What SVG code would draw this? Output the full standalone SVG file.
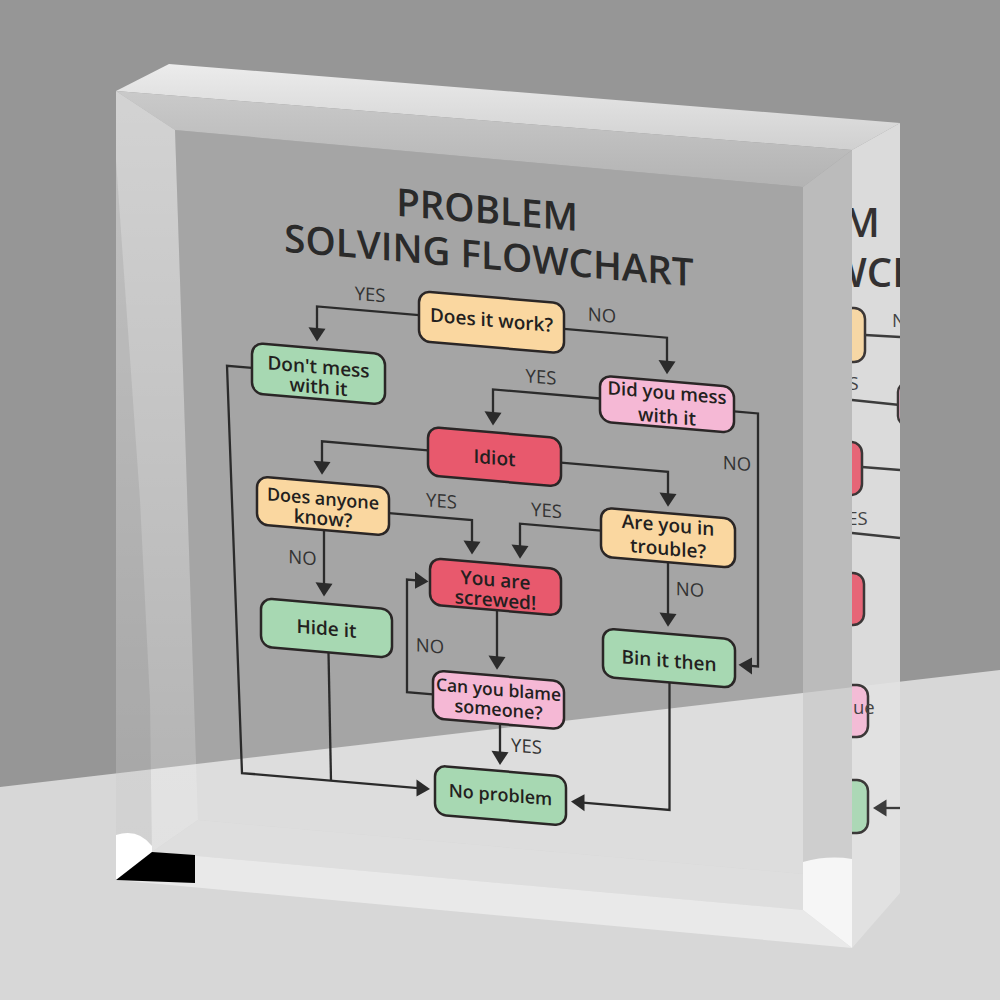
<svg xmlns="http://www.w3.org/2000/svg" width="1000" height="1000" viewBox="0 0 1000 1000">
<defs>
<style>
.box{stroke:#2a2626;stroke-width:2.5}
.orange{fill:#fad7a0}
.green{fill:#a7d8b2}
.pink{fill:#f5b8d5}
.red{fill:#e8596d}
.conn{fill:none;stroke:#2b2b2b;stroke-width:2.3;stroke-linejoin:miter}
.arrow{marker-end:url(#ah)}
.t{font-family:"Open Sans","DejaVu Sans",sans-serif;fill:#231f20;text-anchor:middle}
.bt{font-size:19px;font-weight:600}
.lbl{font-size:18.5px;fill:#333}
.title{font-size:38.5px;fill:#2a2a2a;font-weight:600}
</style>
<marker id="ah" viewBox="-16 -10 18 20" refX="-3" refY="0" markerWidth="18" markerHeight="20" markerUnits="userSpaceOnUse" orient="auto">
<path d="M-13.5,-8.5 L0,0 L-13.5,8.5 Z" fill="#2b2b2b"/>
</marker>
<linearGradient id="gTop" gradientUnits="userSpaceOnUse" x1="0" y1="64" x2="0" y2="150">
<stop offset="0" stop-color="#ececec"/><stop offset="1" stop-color="#d0d0d0"/>
</linearGradient>
<linearGradient id="gTopBevel" gradientUnits="userSpaceOnUse" x1="0" y1="91" x2="0" y2="187">
<stop offset="0" stop-color="#cacaca"/><stop offset="1" stop-color="#b3b3b3"/>
</linearGradient>
<linearGradient id="gLeft" gradientUnits="userSpaceOnUse" x1="0" y1="91" x2="0" y2="880">
<stop offset="0" stop-color="#fff" stop-opacity="0.58"/><stop offset="1" stop-color="#fff" stop-opacity="0.25"/>
</linearGradient>
<clipPath id="sideClip"><polygon points="852,150 900,123 900,893 852,948"/></clipPath>
</defs>

<g id="scene">
<rect x="0" y="0" width="1000" height="1000" fill="#969696"/>
<polygon points="0,787 1000,670 1000,1000 0,1000" fill="#d7d7d7"/>
<polygon id="face" points="175,130 803,187 803,874 198,820" fill="#fff" fill-opacity="0.15"/>
<polygon id="top-surface" points="116,91 169,64 900,123 852,150" fill="url(#gTop)"/>
<polygon id="top-bevel" points="116,91 852,150 803,187 175,130" fill="url(#gTopBevel)"/>
<polygon id="left-bevel" points="116,91 175,130 198,820 152,852 116,880" fill="url(#gLeft)"/>
<polygon points="116,160 140,500 150,700 152,852 116,880" fill="#000" fill-opacity="0.07"/>
<polygon id="right-bevel" points="803,187 852,150 852,948 803,910" fill="#cbcbcb" fill-opacity="0.7"/>
<polygon id="side-face" points="852,150 900,123 900,893 852,948" fill="#e2e2e2" fill-opacity="0.9"/>
<polygon id="bottom-bevel" points="198,820 803,874 803,910 152,852" fill="#dedede"/>
<polygon id="bottom-strip" points="152,852 803,910 852,948 116,880" fill="#e9e9e9"/>
<path d="M116,835 Q138,828 152,846 L152,852 L116,880 Z" fill="#ffffff"/>
<polygon points="116,880 152,852 195,855 195,883" fill="#000"/>
<path d="M803,862 Q828,855 852,859 L852,948 L803,910 Z" fill="#f6f6f6"/>
</g>

<g id="side-reflection" clip-path="url(#sideClip)" opacity="0.9">
<text class="t" x="843" y="237" font-size="40" style="text-anchor:start;font-weight:600">M</text>
<text class="t" x="829" y="287" font-size="40" style="text-anchor:start;font-weight:600">WCH</text>
<rect class="box orange" x="790" y="308" width="75" height="54" rx="11"/>
<path class="conn" d="M865,335 L900,337"/>
<text class="t lbl" x="892" y="327" style="text-anchor:start">NO</text>
<text class="t lbl" x="828" y="390" style="text-anchor:start">YES</text>
<path class="conn" d="M852,400 L900,405"/>
<rect class="box pink" x="898" y="383" width="40" height="42" rx="9"/>
<rect class="box red" x="790" y="442" width="72" height="53" rx="11"/>
<path class="conn" d="M862,467 L900,470"/>
<text class="t lbl" x="837" y="525" style="text-anchor:start">YES</text>
<path class="conn" d="M852,533 L900,538"/>
<rect class="box red" x="790" y="573" width="74" height="52" rx="11"/>
<rect class="box pink" x="790" y="685" width="78" height="52" rx="11"/>
<text class="t lbl" x="853" y="714" style="text-anchor:start">ue</text>
<rect class="box green" x="790" y="780" width="78" height="53" rx="11"/>
<path class="conn arrow" d="M902,808 H876"/>
</g>

<g id="chart" transform="matrix(1,0.085,0,1,0,-42.5)">
<g id="title">
<text class="t title" x="487" y="224.5">PROBLEM</text>
<text class="t title" x="489" y="270">SOLVING FLOWCHART</text>
</g>

<g id="connectors">
<path class="conn arrow" d="M419,322 H317 V354"/>
<path class="conn arrow" d="M564,323.5 H667 V357"/>
<path class="conn arrow" d="M600,390 H493 V423"/>
<path class="conn arrow" d="M734,391.5 H758 V644.5 H741.5"/>
<path class="conn arrow" d="M428,456.5 H322 V487"/>
<path class="conn arrow" d="M561,457.5 H668 V489.5"/>
<path class="conn arrow" d="M389,522.5 H472 V554"/>
<path class="conn arrow" d="M601,522 H520 V554"/>
<path class="conn arrow" d="M324,545 V608.5"/>
<path class="conn arrow" d="M668,548 V609.5"/>
<path class="conn arrow" d="M497,610.5 V667"/>
<path class="conn arrow" d="M433,700 H407 V587.5 H425.5"/>
<path class="conn arrow" d="M500,724 V762"/>
<path class="conn arrow" d="M252,389 H227 L242,795 H427"/>
<path class="conn" d="M328.5,667 L331,795"/>
<path class="conn arrow" d="M669.5,668 V795.5 H574"/>
<g id="labels">
<text class="t lbl" x="370" y="312">YES</text>
<text class="t lbl" x="602" y="313">NO</text>
<text class="t lbl" x="541" y="380">YES</text>
<text class="t lbl" x="737" y="450">NO</text>
<text class="t lbl" x="441.5" y="512.5">YES</text>
<text class="t lbl" x="546.5" y="513">YES</text>
<text class="t lbl" x="302.5" y="581">NO</text>
<text class="t lbl" x="690" y="580">NO</text>
<text class="t lbl" x="430" y="658.5">NO</text>
<text class="t lbl" x="526.5" y="750.5">YES</text>
</g>
</g>

<g id="node-does-it-work">
<rect class="box orange" x="419" y="298" width="145" height="50" rx="11"/>
<text class="t bt" x="491.5" y="327.5">Does it work?</text>
</g>
<g id="node-dont-mess">
<rect class="box green" x="252" y="364" width="133" height="50.5" rx="11"/>
<text class="t bt" x="318.5" y="389">Don't mess</text>
<text class="t bt" x="318.5" y="409">with it</text>
</g>
<g id="node-did-you-mess">
<rect class="box pink" x="600" y="367" width="134" height="46" rx="11"/>
<text class="t bt" x="667" y="385" style="font-size:18.5px">Did you mess</text>
<text class="t bt" x="667" y="409">with it</text>
</g>
<g id="node-idiot">
<rect class="box red" x="428" y="433" width="133" height="48.5" rx="11"/>
<text class="t bt" x="494.5" y="465">Idiot</text>
</g>
<g id="node-does-anyone-know">
<rect class="box orange" x="257" y="497" width="132" height="48" rx="11"/>
<text class="t bt" x="323" y="520" style="font-size:18px">Does anyone</text>
<text class="t bt" x="323" y="540">know?</text>
</g>
<g id="node-are-you-in-trouble">
<rect class="box orange" x="601" y="499" width="134" height="49" rx="11"/>
<text class="t bt" x="668" y="517.5">Are you in</text>
<text class="t bt" x="668" y="541">trouble?</text>
</g>
<g id="node-you-are-screwed">
<rect class="box red" x="430" y="564" width="131" height="46.5" rx="11"/>
<text class="t bt" x="495.5" y="587">You are</text>
<text class="t bt" x="495.5" y="607">screwed!</text>
</g>
<g id="node-hide-it">
<rect class="box green" x="261" y="618.5" width="131" height="48.5" rx="11"/>
<text class="t bt" x="326.5" y="650">Hide it</text>
</g>
<g id="node-bin-it-then">
<rect class="box green" x="603" y="619.5" width="132" height="48.5" rx="11"/>
<text class="t bt" x="669" y="653">Bin it then</text>
</g>
<g id="node-can-you-blame">
<rect class="box pink" x="433" y="676" width="131" height="48" rx="11"/>
<text class="t bt" x="498.5" y="696" style="font-size:17.5px">Can you blame</text>
<text class="t bt" x="498.5" y="716" style="font-size:18px">someone?</text>
</g>
<g id="node-no-problem">
<rect class="box green" x="435" y="771" width="131" height="49" rx="11"/>
<text class="t bt" x="500.5" y="801" style="font-size:18px">No problem</text>
</g>
</g>
</svg>
